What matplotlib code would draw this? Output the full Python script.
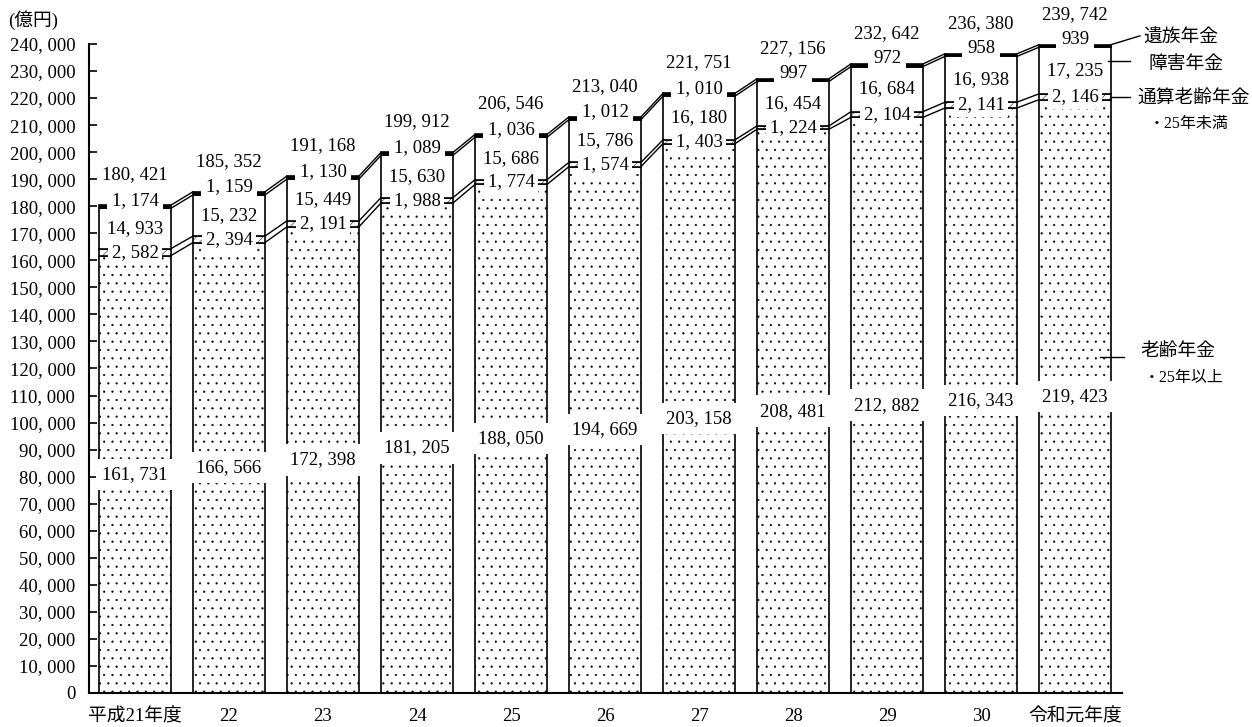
import matplotlib
matplotlib.use("Agg")
import matplotlib.pyplot as plt
from matplotlib.patches import Rectangle
import numpy as np

plt.rcParams['font.family'] = ['Liberation Serif', 'Noto Sans CJK JP', 'DejaVu Sans']
plt.rcParams['hatch.linewidth'] = 0.35

# data (億円)
years = ['平成21年度', '22', '23', '24', '25', '26', '27', '28', '29', '30', '令和元年度']
rourei = [161731, 166566, 172398, 181205, 188050, 194669, 203158, 208481, 212882, 216343, 219423]
tsusan = [2582, 2394, 2191, 1988, 1774, 1574, 1403, 1224, 2104, 2141, 2146]
shogai = [14933, 15232, 15449, 15630, 15686, 15786, 16180, 16454, 16684, 16938, 17235]
izoku = [1174, 1159, 1130, 1089, 1036, 1012, 1010, 997, 972, 958, 939]
totals = [180421, 185352, 191168, 199912, 206546, 213040, 221751, 227156, 232642, 236380, 239742]


def fmt(v):
    return f"{v:,}".replace(",", ", ")


FS = 13.5
x = np.arange(len(years))
w = 0.766

rourei = np.array(rourei)
tsusan = np.array(tsusan)
shogai = np.array(shogai)
izoku = np.array(izoku)
b2 = rourei
b3 = b2 + tsusan
b4 = b3 + shogai
top = b4 + izoku

fig = plt.figure(figsize=(12.52, 7.27), dpi=100)
ax = fig.add_axes([0.0711, 0.0468, 0.8251, 0.8927])

ax.bar(x, rourei, w, color='white', edgecolor='black', hatch='..', linewidth=1.2, zorder=2)
ax.bar(x, tsusan, w, bottom=b2, color='white', edgecolor='black', hatch='////', linewidth=1.2, zorder=2)
ax.bar(x, shogai, w, bottom=b3, color='white', edgecolor='black', linewidth=1.2, zorder=2)
ax.bar(x, izoku, w, bottom=b4, color='black', edgecolor='black', linewidth=1.2, zorder=2)

# connecting lines between bars
for i in range(len(x) - 1):
    xa = x[i] + w / 2
    xb = x[i + 1] - w / 2
    for lev in (b2, b3, b4, top):
        ax.plot([xa, xb], [lev[i], lev[i + 1]], color='black', lw=1.0, zorder=2)

box = dict(facecolor='white', edgecolor='none', pad=2.5)
for i in range(len(x)):
    # 老齢年金 label with white band across the bar
    mid = rourei[i] / 2
    ax.add_patch(Rectangle((x[i] - 0.42, mid - 5800), 0.84, 11600,
                           facecolor='white', edgecolor='none', zorder=3))
    ax.text(x[i], mid, fmt(rourei[i]), ha='center', va='center', fontsize=FS, zorder=4)
    # 通算老齢年金
    ax.text(x[i], b2[i] + tsusan[i] / 2, fmt(tsusan[i]), ha='center', va='center',
            fontsize=FS, zorder=4, bbox=box)
    # 障害年金
    ax.text(x[i], b3[i] + shogai[i] / 2, fmt(shogai[i]), ha='center', va='center',
            fontsize=FS, zorder=4)
    # 遺族年金
    ax.annotate(fmt(izoku[i]), (x[i], b4[i] + izoku[i] / 2), xytext=(0, 4.5),
                textcoords='offset points', ha='center', va='center', fontsize=FS,
                zorder=4, bbox=dict(facecolor='white', edgecolor='none', pad=3.5))
    # total
    ax.annotate(fmt(totals[i]), (x[i], top[i]), xytext=(0, 22),
                textcoords='offset points', ha='center', va='center', fontsize=FS, zorder=4)

# series names on the right
last = len(x) - 1
ax.plot([x[last] + w / 2, 10.69], [top[last], 243000], color='black', lw=1.0, clip_on=False)
ax.text(10.73, 242600, '遺族年金', fontsize=FS, va='center', ha='left')
ax.plot([10.35, 10.585], [233700, 233700], color='black', lw=1.0, clip_on=False, zorder=5)
ax.text(10.78, 232300, '障害年金', fontsize=FS, va='center', ha='left')
ax.plot([x[last] + w / 2, 10.585], [b2[last] + tsusan[last] / 2] * 2, color='black', lw=1.0, clip_on=False)
ax.text(10.66, 220000, '通算老齢年金', fontsize=FS, va='center', ha='left')
ax.text(10.78, 210400, '・25年未満', fontsize=11.5, va='center', ha='left')
ax.plot([10.27, 10.52], [124300, 124300], color='black', lw=1.0, clip_on=False, zorder=5)
ax.text(10.69, 126100, '老齢年金', fontsize=FS, va='center', ha='left')
ax.text(10.73, 116500, '・25年以上', fontsize=11.5, va='center', ha='left')

fig.text(8 / 1252, 1 - 20 / 727, '(億円)', fontsize=FS, va='center', ha='left')

ax.set_xlim(-0.489, 10.5)
ax.set_ylim(0, 240000)
yt = np.arange(0, 240001, 10000)
ax.set_yticks(yt)
ax.set_yticklabels([fmt(v) for v in yt], fontsize=FS)
ax.set_xticks(x)
ax.set_xticklabels(years, fontsize=FS)
ax.tick_params(axis='y', direction='in', length=6, width=1.2, pad=10)
ax.tick_params(axis='x', length=0, pad=11)
for s in ('top', 'right'):
    ax.spines[s].set_visible(False)
ax.spines['left'].set_linewidth(1.5)
ax.spines['bottom'].set_linewidth(1.5)

fig.savefig('out.png', dpi=100)
